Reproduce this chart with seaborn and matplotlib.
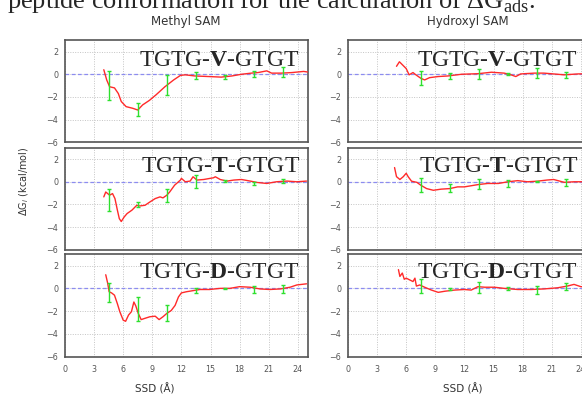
import matplotlib
matplotlib.use("Agg")
import matplotlib.pyplot as plt
import seaborn as sns
import pandas as pd

# --- podaci ocitani sa slike ---
ssd_methyl_v = [4.0, 4.3, 4.6, 5.1, 5.5, 5.8, 6.3, 7.0, 7.5, 8.0, 8.7, 9.4, 10.3, 11.2, 11.9, 12.4,
                13.4, 14.8, 16.1, 17.2, 18.2, 19.2, 19.9, 20.8, 21.3, 22.3, 23.4, 24.6, 25.0]
dg_methyl_v = [0.4, -0.5, -1.1, -1.2, -1.7, -2.4, -2.85, -3.0, -3.15, -2.7, -2.3, -1.8, -1.1, -0.5, -0.1, -0.05,
               -0.15, -0.2, -0.25, -0.15, 0.0, 0.1, 0.15, 0.3, 0.1, 0.1, 0.15, 0.25, 0.2]

ssd_hydroxyl_v = [5.0, 5.3, 5.65, 6.0, 6.3, 6.7, 7.0, 7.5, 7.9, 8.4, 9.3, 10.3, 11.7, 13.4, 14.8, 16.1,
                  16.8, 17.3, 17.8, 19.2, 20.2, 21.6, 22.3, 23.7, 25.0]
dg_hydroxyl_v = [0.7, 1.1, 0.8, 0.5, -0.05, 0.15, -0.05, -0.35, -0.5, -0.3, -0.2, -0.15, 0.0, 0.05, 0.18, 0.1,
                 -0.05, -0.2, 0.03, 0.1, 0.1, 0.0, -0.05, 0.03, 0.05]

ssd_methyl_t = [4.0, 4.2, 4.6, 4.9, 5.15, 5.4, 5.6, 5.8, 6.1, 6.4, 6.9, 7.4, 7.7, 8.25, 8.75, 9.3, 9.8, 10.1,
                10.5, 10.8, 11.3, 11.9, 12.0, 12.4, 12.9, 13.2, 13.6, 14.3, 15.3, 15.5, 16.0, 16.7, 17.4,
                18.2, 19.1, 19.8, 20.8, 21.8, 22.9, 23.9, 24.9]
dg_methyl_t = [-1.33, -0.9, -1.18, -1.04, -1.48, -2.5, -3.25, -3.5, -3.1, -2.8, -2.5, -2.07, -2.13, -2.07,
               -1.78, -1.48, -1.33, -1.42, -1.18, -0.89, -0.3, 0.15, 0.3, 0.0, 0.06, 0.44, 0.15, 0.2, 0.35,
               0.44, 0.2, 0.06, 0.15, 0.2, 0.06, -0.06, -0.15, 0.0, 0.06, 0.0, 0.06]

ssd_hydroxyl_t = [4.8, 5.0, 5.35, 5.7, 6.0, 6.2, 6.55, 7.1, 7.5, 8.1, 8.8, 9.6, 10.5, 11.3, 12.0, 12.7,
                  13.4, 14.4, 15.5, 16.5, 17.5, 18.5, 19.5, 20.5, 21.2, 22.3, 23.3, 24.0, 25.0]
dg_hydroxyl_t = [1.25, 0.45, 0.2, 0.45, 0.75, 0.45, 0.05, -0.05, -0.3, -0.6, -0.75, -0.65, -0.6, -0.45,
                 -0.45, -0.35, -0.25, -0.15, -0.15, 0.0, 0.1, 0.0, 0.05, 0.15, 0.2, -0.05, 0.0, 0.0, 0.0]

ssd_methyl_d = [4.2, 4.4, 4.55, 4.8, 5.1, 5.4, 5.65, 6.0, 6.25, 6.55, 6.85, 7.1, 7.3, 7.55, 7.85, 8.2,
                8.75, 9.3, 9.7, 10.1, 10.5, 10.95, 11.35, 11.7, 12.0, 12.5, 13.2, 13.9, 14.9, 16.0, 17.0,
                18.0, 19.1, 20.1, 21.1, 22.2, 23.2, 23.9, 24.9]
dg_methyl_d = [1.2, 0.45, -0.3, -0.4, -0.6, -1.35, -2.05, -2.8, -2.9, -2.35, -2.05, -1.2, -1.55, -2.2,
               -2.75, -2.65, -2.5, -2.45, -2.75, -2.5, -2.2, -1.95, -1.5, -0.75, -0.4, -0.3, -0.2, -0.1,
               -0.1, 0.0, 0.0, 0.15, 0.1, -0.05, -0.1, -0.05, 0.1, 0.3, 0.4]

ssd_hydroxyl_d = [5.2, 5.35, 5.6, 5.8, 6.0, 6.35, 6.7, 6.9, 7.05, 7.4, 7.9, 8.6, 9.3, 10.0, 11.0, 12.0,
                  12.7, 13.4, 14.1, 15.1, 16.1, 17.5, 18.9, 20.2, 21.6, 22.6, 23.3, 24.0, 25.0]
dg_hydroxyl_d = [1.65, 1.05, 1.35, 0.8, 0.9, 0.75, 0.6, 0.9, 0.2, 0.3, 0.1, -0.15, -0.35, -0.25, -0.15,
                 -0.1, -0.15, 0.15, 0.1, 0.1, 0.0, -0.1, -0.1, -0.05, 0.05, 0.2, 0.35, 0.15, 0.1]

# error bars (centar i polu-sirina)
err_ssd_methyl = [4.5, 7.5, 10.5, 13.5, 16.5, 19.5, 22.5]
err_ssd_hydroxyl = [7.5, 10.5, 13.5, 16.5, 19.5, 22.5]
err_methyl_v = [-1.0, -3.1, -0.95, -0.12, -0.23, 0.05, 0.2]
err_size_methyl_v = [1.25, 0.6, 0.9, 0.3, 0.18, 0.25, 0.4]
err_hydroxyl_v = [-0.35, -0.15, 0.05, 0.05, 0.1, -0.05]
err_size_hydroxyl_v = [0.63, 0.3, 0.45, 0.1, 0.45, 0.25]
err_methyl_t = [-1.6, -2.0, -1.2, 0.03, 0.05, -0.15, 0.1]
err_size_methyl_t = [0.95, 0.2, 0.6, 0.55, 0.08, 0.15, 0.18]
err_hydroxyl_t = [-0.3, -0.55, -0.2, -0.15, 0.05, -0.05]
err_size_hydroxyl_t = [0.6, 0.33, 0.4, 0.3, 0.05, 0.33]
err_methyl_d = [-0.35, -1.8, -2.15, -0.2, 0.0, -0.1, -0.05]
err_size_methyl_d = [0.85, 1.08, 0.72, 0.2, 0.05, 0.35, 0.33]
err_hydroxyl_d = [0.2, -0.05, 0.05, 0.0, -0.15, 0.2]
err_size_hydroxyl_d = [0.6, 0.1, 0.47, 0.1, 0.37, 0.3]

peptidi = ["V", "T", "D"]
stupci = ["Methyl SAM", "Hydroxyl SAM"]
x_ticks = [0, 3, 6, 9, 12, 15, 18, 21, 24]
y_ticks = [-6, -4, -2, 0, 2]

krivulje = {
    ("V", 0): (ssd_methyl_v, dg_methyl_v, err_ssd_methyl, err_methyl_v, err_size_methyl_v),
    ("V", 1): (ssd_hydroxyl_v, dg_hydroxyl_v, err_ssd_hydroxyl, err_hydroxyl_v, err_size_hydroxyl_v),
    ("T", 0): (ssd_methyl_t, dg_methyl_t, err_ssd_methyl, err_methyl_t, err_size_methyl_t),
    ("T", 1): (ssd_hydroxyl_t, dg_hydroxyl_t, err_ssd_hydroxyl, err_hydroxyl_t, err_size_hydroxyl_t),
    ("D", 0): (ssd_methyl_d, dg_methyl_d, err_ssd_methyl, err_methyl_d, err_size_methyl_d),
    ("D", 1): (ssd_hydroxyl_d, dg_hydroxyl_d, err_ssd_hydroxyl, err_hydroxyl_d, err_size_hydroxyl_d),
}

sns.set_style("white")
plt.rcParams["font.family"] = ["DejaVu Sans"]
plt.rcParams["mathtext.fontset"] = "custom"
plt.rcParams["mathtext.rm"] = "Liberation Serif"
plt.rcParams["mathtext.bf"] = "Liberation Serif:bold"
plt.rcParams["mathtext.it"] = "DejaVu Sans:italic"

fig = plt.figure(figsize=(5.82, 3.96), dpi=100)

W, H = 582.0, 396.0
lijevo = [65, 348]
vrh = [40.2, 147.7, 254.3]
sirina = 242.5
visina = 102.2
tekst_x = [24.2, 23.7]
tekst_y = [0.75, 0.85, 0.95]

for r, pep in enumerate(peptidi):
    for c in range(2):
        ax = fig.add_axes([lijevo[c] / W, 1 - (vrh[r] + visina) / H, sirina / W, visina / H])
        ssd, dg, ex, ey, es = krivulje[(pep, c)]

        ax.grid(True, color="#c4c4c4", linestyle=(0, (1, 1.5)), linewidth=0.7)
        ax.axhline(0, color="#8c8cf0", linestyle=(0, (3, 2)), linewidth=0.9, zorder=1)

        sns.lineplot(x=ssd, y=dg, ax=ax, color="#ff2a2a", linewidth=1.0,
                     estimator=None, sort=False, zorder=3)
        ax.errorbar(ex, ey, yerr=es, fmt="none", ecolor="#2ee02e", elinewidth=1.0,
                    capsize=1.6, capthick=1.0, zorder=4)

        ax.set_xlim(0, 25)
        ax.set_ylim(-6, 3)
        ax.set_xticks(x_ticks)
        ax.set_yticks(y_ticks)
        ax.set_yticklabels([str(v).replace("-", "\u2212") for v in y_ticks])
        if r == 2:
            ax.set_xticklabels([str(v) for v in x_ticks])
        else:
            ax.set_xticklabels([])
        ax.tick_params(direction="in", length=4, width=0.8, color="#555555",
                       labelsize=5.8, labelcolor="#555555", pad=5)
        ax.tick_params(axis="x", pad=6)
        for s in ax.spines.values():
            s.set_color("#555555")
            s.set_linewidth(1.2)

        ax.text(tekst_x[c], tekst_y[r], "TGTG-$\\mathbf{" + pep + "}$-GTGT",
                ha="right", va="baseline", fontsize=17, family="Liberation Serif", zorder=5)

fig.text(186 / W, 1 - 21 / H, stupci[0], ha="center", va="center", fontsize=8.5, color="#333333")
fig.text(468 / W, 1 - 21 / H, stupci[1], ha="center", va="center", fontsize=8.5, color="#333333")
fig.text(155 / W, 1 - 389 / H, "SSD (Å)", ha="center", va="center", fontsize=7.5, color="#333333")
fig.text(463 / W, 1 - 389 / H, "SSD (Å)", ha="center", va="center", fontsize=7.5, color="#333333")
fig.text(24.5 / W, 1 - 181 / H, "ΔG$_i$ (kcal/mol)", ha="center", va="center", rotation=90,
         fontsize=7, color="#333333")
fig.text(7 / W, 1 - 8 / H, "peptide conformation for the calculation of ΔG$_{\\mathrm{ads}}$.",
         ha="left", va="baseline", fontsize=19, family="Liberation Serif")

plt.savefig("out.png", dpi=100)
plt.close()
